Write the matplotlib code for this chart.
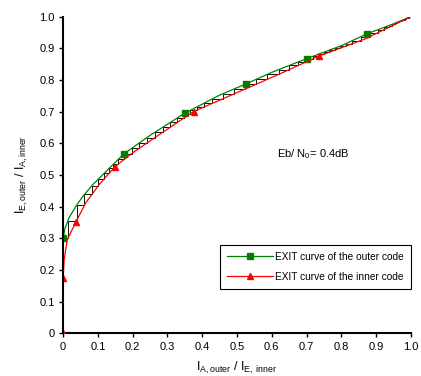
import numpy as np
import matplotlib
matplotlib.use("Agg")
import matplotlib.pyplot as plt

plt.rcParams['font.family'] = ['Liberation Sans', 'DejaVu Sans']
plt.rcParams['mathtext.fontset'] = 'custom'
plt.rcParams['mathtext.rm'] = 'Liberation Sans'
plt.rcParams['mathtext.it'] = 'Liberation Sans:italic'

# EXIT curve of the outer code: I_E,outer vs I_A,outer
outer_x = [0.0, 0.005, 0.017, 0.036, 0.055, 0.084, 0.127, 0.175, 0.25, 0.35, 0.45, 0.525, 0.6, 0.7, 0.8, 0.875, 0.95, 1.0]
outer_y = [0.30, 0.33, 0.365, 0.40, 0.43, 0.468, 0.515, 0.567, 0.625, 0.695, 0.752, 0.787, 0.824, 0.867, 0.908, 0.946, 0.977, 1.0]
outer_marks = [0, 7, 9, 11, 13, 15]

# EXIT curve of the inner code, drawn with swapped axes
inner_y = [0.0, 0.175, 0.233, 0.296, 0.352, 0.412, 0.47, 0.526, 0.57, 0.63, 0.70, 0.76, 0.82, 0.875, 0.93, 1.0]
inner_x = [0.0, 0.0, 0.003, 0.012, 0.037, 0.065, 0.104, 0.149, 0.20, 0.28, 0.375, 0.50, 0.625, 0.735, 0.87, 1.0]
inner_marks = [0, 1, 4, 7, 10, 13]

ticks = [0, 0.1, 0.2, 0.3, 0.4, 0.5, 0.6, 0.7, 0.8, 0.9, 1.0]
tick_labels = ['0', '0.1', '0.2', '0.3', '0.4', '0.5', '0.6', '0.7', '0.8', '0.9', '1.0']

fig = plt.figure(figsize=(4.21, 3.76), dpi=100)
ax = fig.add_axes([0.150, 0.1135, 0.826, 0.8425])

# decoding trajectory, stepping between the two curves
tx, ty = [0.0], [0.0]
x = 0.0
for i in range(80):
    y = np.interp(x, outer_x, outer_y)
    tx.append(x); ty.append(y)
    xn = np.interp(y, inner_y, inner_x)
    tx.append(xn); ty.append(y)
    if xn - x < 1e-3 or xn >= 0.995:
        break
    x = xn
ax.plot(tx, ty, color='black', lw=0.65, zorder=2)

ax.plot(outer_x, outer_y, color='green', lw=0.9, marker='s', markersize=4.5,
        markevery=outer_marks, label='EXIT curve of the outer code', zorder=3)
ax.plot(inner_x, inner_y, color='red', lw=0.9, marker='^', markersize=4.5,
        markevery=inner_marks, label='EXIT curve of the inner code', zorder=3)

ax.text(0.615, 0.565, r'Eb/ N$_0$= 0.4dB', fontsize=8, va='center')

ax.set_xlim(0, 1)
ax.set_ylim(0, 1)
ax.set_xticks(ticks)
ax.set_xticklabels(tick_labels)
ax.set_yticks(ticks)
ax.set_yticklabels(tick_labels)
ax.tick_params(labelsize=8, length=3, width=1, direction='out', pad=3)
for s in ['top', 'right']:
    ax.spines[s].set_visible(False)
for s in ['left', 'bottom']:
    ax.spines[s].set_linewidth(1.5)
ax.spines['left'].set_zorder(4)

ax.set_xlabel(r'I$_{\rm A,outer}$ / I$_{\rm E,\ inner}$', fontsize=9, labelpad=6)
ax.set_ylabel(r'I$_{\rm E,outer}$ / I$_{\rm A,inner}$', fontsize=9, labelpad=7)

leg = ax.legend(loc='lower right', bbox_to_anchor=(1.0, 0.14), fontsize=7.3,
                fancybox=False, edgecolor='black', framealpha=1,
                handlelength=4.5, borderpad=0.7, borderaxespad=0.0,
                labelspacing=1.0, handletextpad=0.2)
leg.get_frame().set_linewidth(0.8)

fig.savefig('out.png', dpi=100)
